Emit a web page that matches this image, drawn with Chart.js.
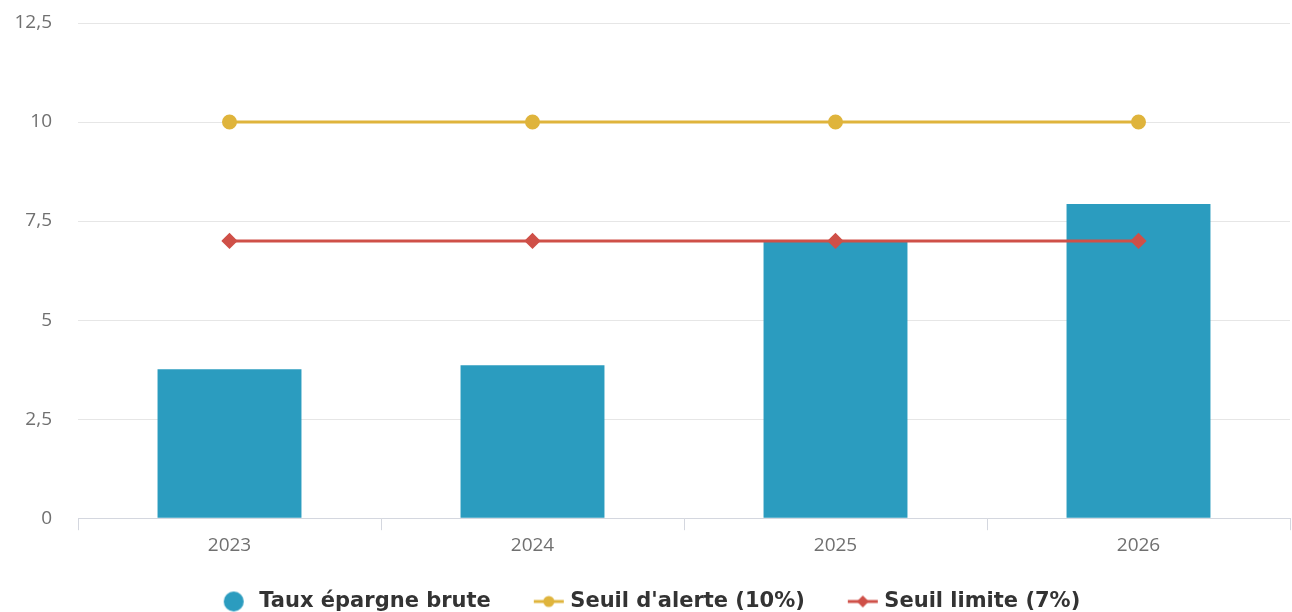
<!DOCTYPE html>
<html lang="fr">
<head>
<meta charset="utf-8">
<title>Taux d'épargne brute</title>
<script src="https://cdn.jsdelivr.net/npm/chart.js@4/dist/chart.umd.min.js"></script>
<style>
  html, body { margin: 0; padding: 0; background: #ffffff; }
  #wrap { position: relative; width: 1292px; height: 612px; }
</style>
</head>
<body>
<div id="wrap"><canvas id="chart"></canvas></div>
<script>
// Années
const years = ['2023', '2024', '2025', '2026'];
// Taux d'épargne brute (%)
const tauxEpargne = [3.76, 3.86, 6.98, 7.93];
// Seuils réglementaires (%)
const seuilAlerte = [10, 10, 10, 10];
const seuilLimite = [7, 7, 7, 7];
// Graduations de l'axe vertical
const yTicks = [0, 2.5, 5, 7.5, 10, 12.5];

const BLUE = '#2b9cbf';
const GOLD = '#dfb43c';
const RED = '#cf5048';

// Icônes de légende : pastille pour les barres, trait + marqueur pour les seuils.
// Le canevas est plus large que le symbole pour laisser de l'air avant chaque entrée.
const ICON_W = 49, ICON_H = 22, ICON_CX = 33;
function legendIcon(kind, color) {
  const c = document.createElement('canvas');
  c.width = ICON_W; c.height = ICON_H;
  const ctx = c.getContext('2d');
  const cy = ICON_H / 2;
  ctx.fillStyle = color;
  ctx.strokeStyle = color;
  if (kind === 'bar') {
    ctx.beginPath(); ctx.arc(ICON_CX - 4, cy, 10, 0, Math.PI * 2); ctx.fill();
  } else {
    ctx.lineWidth = 3;
    ctx.beginPath(); ctx.moveTo(ICON_CX - 15, cy); ctx.lineTo(ICON_CX + 15, cy); ctx.stroke();
    ctx.beginPath();
    if (kind === 'circle') {
      ctx.arc(ICON_CX, cy, 5.5, 0, Math.PI * 2);
    } else {
      ctx.moveTo(ICON_CX, cy - 6); ctx.lineTo(ICON_CX + 6, cy);
      ctx.lineTo(ICON_CX, cy + 6); ctx.lineTo(ICON_CX - 6, cy); ctx.closePath();
    }
    ctx.fill();
  }
  return c;
}
const icons = [legendIcon('bar', BLUE), legendIcon('circle', GOLD), legendIcon('diamond', RED)];

const fmt = v => String(v).replace('.', ',');

new Chart(document.getElementById('chart'), {
  data: {
    labels: years,
    datasets: [
      {
        type: 'line', label: "Seuil d'alerte (10%)", data: seuilAlerte, order: 1,
        borderColor: GOLD, backgroundColor: GOLD, borderWidth: 3,
        pointStyle: 'circle', pointRadius: 6, pointHoverRadius: 6
      },
      {
        type: 'line', label: 'Seuil limite (7%)', data: seuilLimite, order: 0,
        borderColor: RED, backgroundColor: RED, borderWidth: 3,
        pointStyle: 'rectRot', pointRadius: 6, pointHoverRadius: 6
      },
      {
        type: 'bar', label: 'Taux épargne brute', data: tauxEpargne, order: 2,
        backgroundColor: BLUE, borderWidth: 0,
        categoryPercentage: 1.0, barPercentage: 0.475
      }
    ]
  },
  options: {
    responsive: true,
    maintainAspectRatio: false,
    animation: false,
    layout: { autoPadding: false, padding: { top: 23, right: 2, left: 0, bottom: -10 } },
    plugins: {
      tooltip: { enabled: false },
      legend: {
        position: 'bottom',
        labels: {
          usePointStyle: true,
          pointStyleWidth: 39,
          padding: 30,
          color: '#333333',
          font: { family: 'DejaVu Sans', size: 21, weight: 'bold' },
          generateLabels(chart) {
            const order = [2, 0, 1];
            return order.map((di, i) => ({
              text: chart.data.datasets[di].label,
              pointStyle: icons[i],
              fillStyle: 'transparent',
              strokeStyle: 'transparent',
              lineWidth: 0,
              fontColor: '#333333',
              hidden: false,
              datasetIndex: di
            }));
          }
        }
      }
    },
    scales: {
      x: {
        offset: true,
        grid: { display: true, drawOnChartArea: false, drawTicks: true, tickLength: 12, color: '#d4d7df' },
        border: { display: true, color: '#d4d7df' },
        ticks: { color: '#707070', padding: 4, font: { family: 'Open Sans', size: 19 } }
      },
      y: {
        min: 0, max: 12.5,
        afterBuildTicks(scale) { scale.ticks = yTicks.map(v => ({ value: v })); },
        afterFit(scale) {
          scale.width = 78;
          // the label gap should not push the plot area down
          scale.paddingTop = 0;
          scale.paddingBottom = 0;
        },
        grid: { color: '#e6e6e6', drawTicks: false },
        border: { display: false },
        ticks: { color: '#707070', padding: 26, font: { family: 'Open Sans', size: 19 }, callback: v => fmt(v) }
      }
    }
  }
});
</script>
</body>
</html>
